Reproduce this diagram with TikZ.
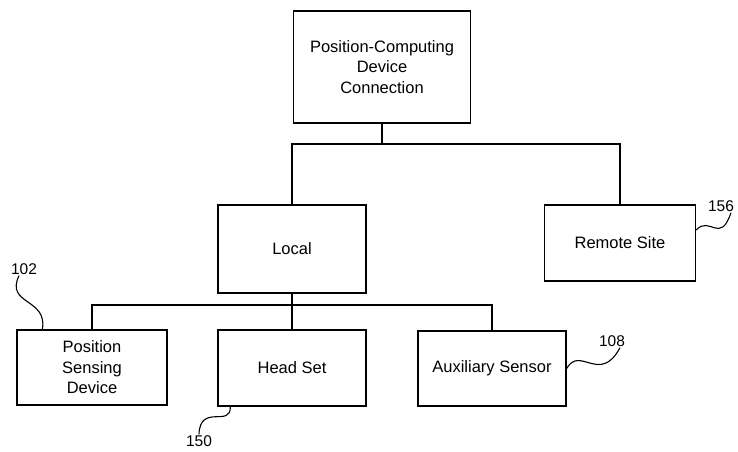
\documentclass[tikz,border=0pt]{standalone}
\usepackage{fontspec}
\setmainfont{Liberation Sans}
\usepackage{tikz}

\begin{document}
\begin{tikzpicture}[
    x=1pt, y=-1pt,
    box/.style={draw, line width=1.3pt, align=center, inner sep=2pt,
        font=\fontsize{16.5}{20.5}\selectfont},
    refnum/.style={inner sep=1pt, font=\fontsize{15.5}{18}\selectfont},
    wiggle/.style={line width=1.1pt},
    wire/.style={line width=1.3pt},
    ]
    \useasboundingbox (0,0) rectangle (738,451);

    % boxes
    \node[box, minimum width=177pt, minimum height=112pt] (pcd) at (382,67)
        {Position-Computing\\Device\\Connection};
    \node[box, minimum width=148pt, minimum height=88pt] (local) at (292,249) {Local};
    \node[box, minimum width=151pt, minimum height=76pt] (remote) at (620,243) {Remote Site};
    \node[box, minimum width=150pt, minimum height=75pt] (psd) at (92,367.5)
        {Position\\Sensing\\Device};
    \node[box, minimum width=148pt, minimum height=76pt] (head) at (292,368) {Head Set};
    \node[box, minimum width=148pt, minimum height=75pt] (aux) at (492,368.5) {Auxiliary Sensor};

    % tree lines
    \coordinate (bus1) at (382,144);
    \coordinate (bus2) at (292,305);
    \draw[wire] (pcd) -- (bus1);
    \draw[wire] (local.north) |- (bus1) -| (remote.north);
    \draw[wire] (local) -- (head);
    \draw[wire] (psd.north) |- (bus2) -| (aux.north);

    % reference numbers
    \node[refnum] (l102) at (24,269) {102};
    \node[refnum] (l150) at (199,441) {150};
    \node[refnum] (l156) at (721,206) {156};
    \node[refnum] (l108) at (612,341) {108};

    \draw[wiggle] ([xshift=-5pt]l102.south) .. controls (5,305) and (48,298) .. ([xshift=26pt]psd.north west);
    \draw[wiggle] ([xshift=13pt]head.south west) .. controls (231,428) and (200,403) .. (l150.north);
    \draw[wiggle] ([yshift=13pt]remote.east) .. controls (710,215) and (720,245) .. ([xshift=10pt]l156.south);
    \draw[wiggle] (aux.east) .. controls (580,345) and (600,385) .. ([xshift=8pt]l108.south);
\end{tikzpicture}
\end{document}
